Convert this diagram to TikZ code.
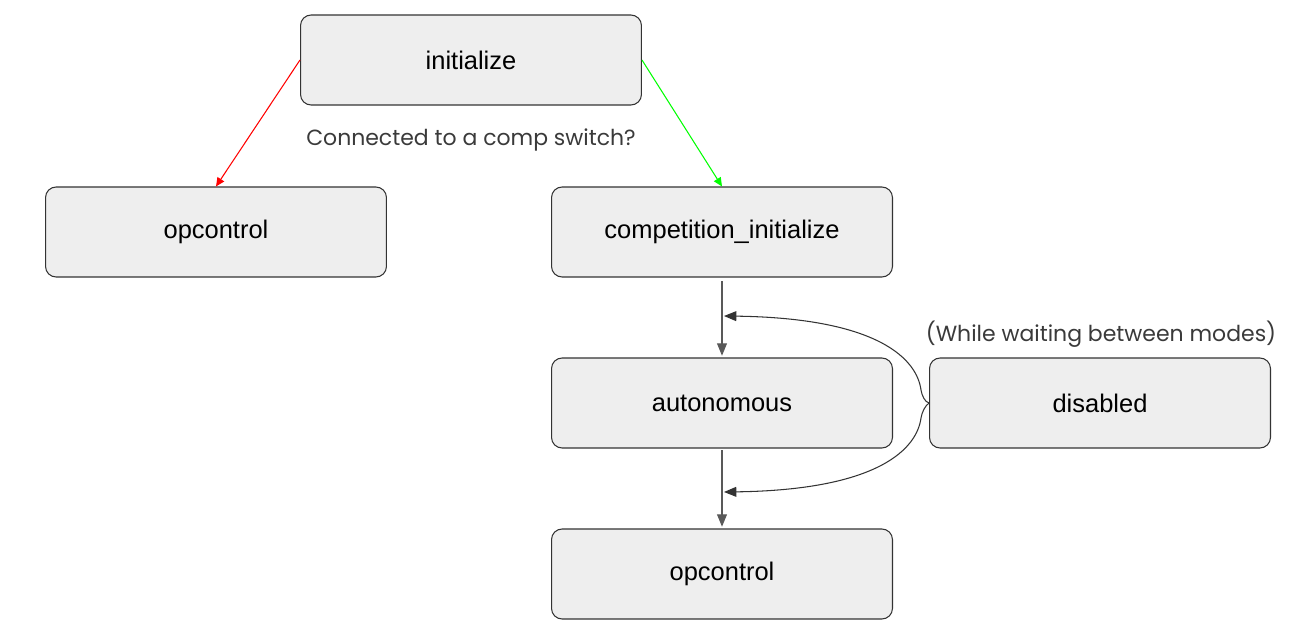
\documentclass[tikz,border=0pt]{standalone}
\usepackage{fontspec}
\setmainfont{Liberation Sans}
\newfontfamily\notefont{Poppins}
\usetikzlibrary{arrows.meta}
\definecolor{boxfill}{HTML}{EEEEEE}
\definecolor{boxline}{HTML}{333333}
\definecolor{flow}{HTML}{595959}
\definecolor{notetext}{HTML}{3A3A3A}
\begin{document}
\begin{tikzpicture}[x=0.02cm,y=-0.02cm,
	state/.style={draw=boxline,fill=boxfill,line width=0.6pt,rounded corners=6pt,minimum width=6.82cm,minimum height=1.8cm,font=\fontsize{14.5}{17}\selectfont},
	note/.style={text=notetext,font=\notefont\fontsize{12.5}{15}\selectfont},
	flowarrow/.style={draw=flow,line width=0.6pt,-{Triangle[length=7pt,width=5.6pt]}},
	yesno/.style={line width=0.6pt,-{Triangle[length=5pt,width=4.5pt]}}]
	\useasboundingbox (0,0) rectangle (1316,642);
	%STATES
	\node[state] (init) at (471,60) {initialize};
	\node[state] (opleft) at (216,232) {opcontrol};
	\node[state] (compinit) at (722,232) {competition\_initialize};
	\node[state] (auto) at (722,403) {autonomous};
	\node[state] (disabled) at (1100,403) {disabled};
	\node[state] (opright) at (722,574) {opcontrol};
	%NOTES
	\node[note] (question) at (471,140) {Connected to a comp switch?};
	\node[note] (waiting) at (1101,334) {(While waiting between modes)};
	%COMP SWITCH
	\draw[yesno,red] (init.west) -- (opleft.north);
	\draw[yesno,green] (init.east) -- (compinit.north);
	%MATCH
	\draw[flowarrow,shorten <=2pt,shorten >=1pt] (compinit.south) -- (auto.north);
	\draw[flowarrow,shorten <=1pt,shorten >=1pt] (auto.south) -- (opright.north);
	\coordinate (inauto) at (724,316);
	\coordinate (inop) at (724,492);
	\coordinate (tipup) at (921,390);
	\coordinate (tipdown) at (921,418);
	\draw[flowarrow,draw=boxline] (disabled.west) .. controls (925,402) and (922,396) .. (tipup) .. controls (917,360) and (880,318) .. (inauto);
	\draw[flowarrow,draw=boxline] (disabled.west) .. controls (925,406) and (922,412) .. (tipdown) .. controls (917,448) and (880,490) .. (inop);
\end{tikzpicture}
\end{document}
